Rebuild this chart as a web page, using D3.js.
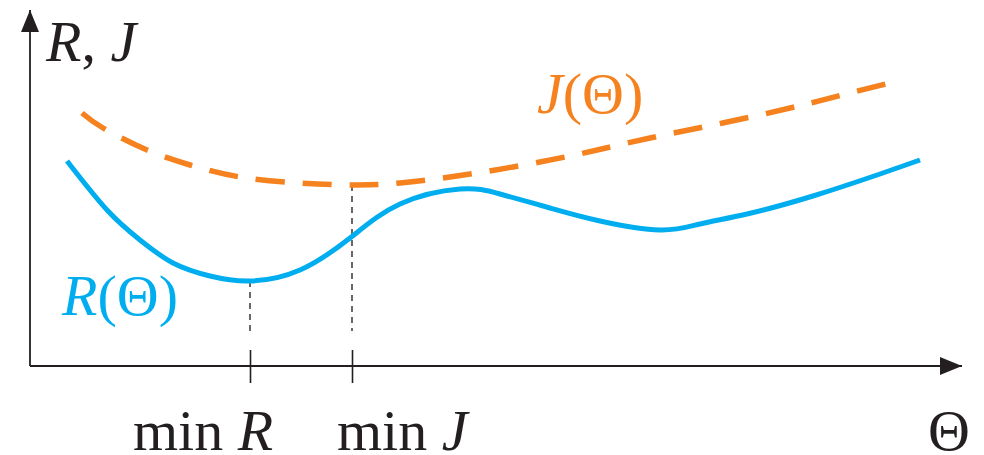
<!DOCTYPE html>
<html>
<head>
<meta charset="utf-8">
<script src="https://cdn.jsdelivr.net/npm/d3@7"></script>
<style>
  body { margin: 0; background: #fff; }
  text { font-family: "Liberation Serif", "Times New Roman", serif; }
</style>
</head>
<body>
<div id="chart"></div>
<script>
// values (theta, value) in arbitrary units
var r_theta = [37, 77, 110, 143, 180, 220, 270, 320, 370, 430, 470, 520, 570, 630, 670, 717, 783, 850, 890];
var r_value = [205, 156, 126, 103, 90, 85, 96, 128, 162, 177, 172, 158, 145, 136, 142, 152, 170, 192, 206];
var j_theta = [52, 73, 117, 160, 210, 270, 322, 370, 447, 540, 620, 730, 820, 868];
var j_value = [253, 238, 216, 201, 189, 183, 181, 183, 193, 210, 228, 251, 273, 285];
var min_theta = [220, 322];
var min_value = [85, 181];
var min_labels = ["R", "J"];

var width = 984, height = 455;
var ax_color = "#231f20", blue = "#00aeef", orange = "#f5821f";

var svg = d3.select("#chart").append("svg")
    .attr("width", width)
    .attr("height", height);

var x = d3.scaleLinear().domain([0, 932]).range([30, 962]);
var y = d3.scaleLinear().domain([0, 356]).range([366, 10]);

var defs = svg.append("defs");
defs.append("marker")
    .attr("id", "arrow")
    .attr("viewBox", "0 0 22 18")
    .attr("refX", 22).attr("refY", 9)
    .attr("markerWidth", 22).attr("markerHeight", 18)
    .attr("markerUnits", "userSpaceOnUse")
    .attr("orient", "auto")
    .append("path")
    .attr("d", "M0,0 L22,9 L0,18 Z")
    .attr("fill", ax_color);

// axes
svg.append("line")
    .attr("x1", x(0)).attr("y1", y(0))
    .attr("x2", x(0)).attr("y2", y(356))
    .attr("stroke", ax_color).attr("stroke-width", 1.8)
    .attr("marker-end", "url(#arrow)");
svg.append("line")
    .attr("x1", x(0)).attr("y1", y(0))
    .attr("x2", x(932)).attr("y2", y(0))
    .attr("stroke", ax_color).attr("stroke-width", 1.8)
    .attr("marker-end", "url(#arrow)");

// ticks at the minima
var xAxis = svg.append("g")
    .attr("transform", "translate(0," + y(0) + ")")
    .call(d3.axisBottom(x).tickValues(min_theta).tickSize(17).tickFormat(""));
xAxis.select(".domain").remove();
xAxis.selectAll(".tick line")
    .attr("y1", -16)
    .attr("stroke", ax_color)
    .attr("stroke-width", 1.6);

// dashed guides from curve down
svg.selectAll(".guide")
    .data(min_theta)
    .enter().append("line")
    .attr("class", "guide")
    .attr("x1", function (d) { return x(d); })
    .attr("x2", function (d) { return x(d); })
    .attr("y1", function (d, i) { return y(min_value[i]); })
    .attr("y2", y(35))
    .attr("stroke", "#444")
    .attr("stroke-width", 1.6)
    .attr("stroke-dasharray", "6,5");

var line = d3.line()
    .x(function (d) { return x(d[0]); })
    .y(function (d) { return y(d[1]); })
    .curve(d3.curveNatural);

svg.append("path")
    .datum(d3.zip(j_theta, j_value))
    .attr("d", line)
    .attr("fill", "none")
    .attr("stroke", orange)
    .attr("stroke-width", 5.5)
    .attr("stroke-dasharray", "29,18");

svg.append("path")
    .datum(d3.zip(r_theta, r_value))
    .attr("d", line)
    .attr("fill", "none")
    .attr("stroke", blue)
    .attr("stroke-width", 5);

// labels
function label(tx, ty, parts, color, anchor) {
    var t = svg.append("text")
        .attr("x", tx).attr("y", ty)
        .attr("font-size", 58)
        .attr("fill", color)
        .attr("text-anchor", anchor || "start");
    parts.forEach(function (p) {
        t.append("tspan")
            .attr("font-style", p[1] ? "italic" : "normal")
            .text(p[0]);
    });
    return t;
}

label(46, 61, [["R", 1], [", ", 0], ["J", 1]], ax_color);
label(537, 113, [["J", 1], ["(\u0398)", 0]], orange);
label(62, 315, [["R", 1], ["(\u0398)", 0]], blue);
label(970, 450, [["\u0398", 0]], ax_color, "end");

var min_offset = [-117, -15];
min_theta.forEach(function (d, i) {
    label(x(d) + min_offset[i], 450, [["min ", 0], [min_labels[i], 1]], ax_color);
});
</script>
</body>
</html>
